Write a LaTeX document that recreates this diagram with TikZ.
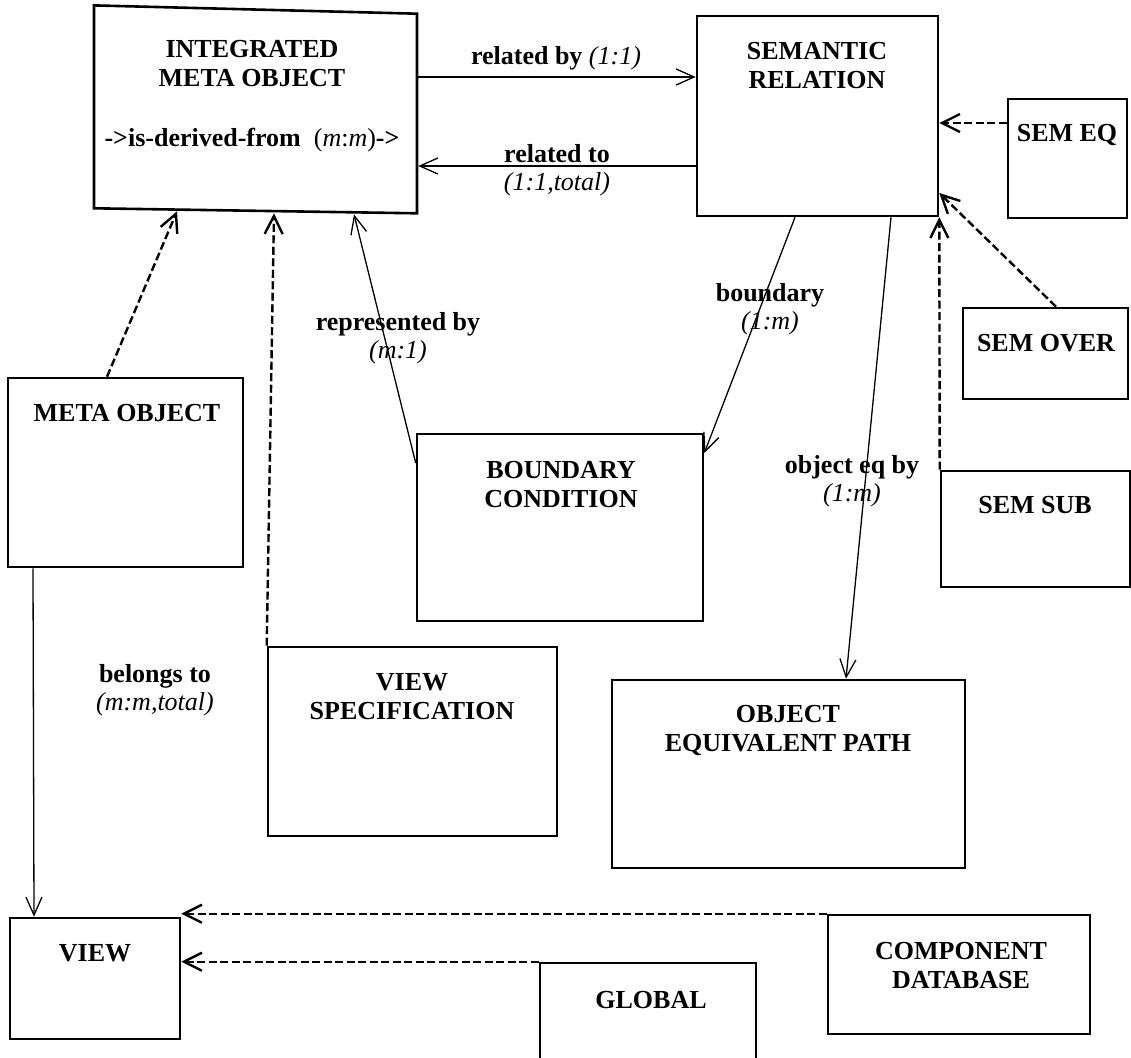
\documentclass[tikz,border=0pt]{standalone}
\usepackage{fontspec}
\setmainfont{Liberation Serif}
\usetikzlibrary{arrows.meta,calc}
\begin{document}
\begin{tikzpicture}[x=1pt,y=-1pt,
  box/.style={draw, line width=2.6pt, rectangle, inner sep=0pt},
  boxline/.style={line width=2.6pt, line join=miter},
  ttl/.style={font=\fontsize{26}{29}\selectfont\bfseries, align=center, inner sep=0pt},
  lbl/.style={font=\fontsize{26}{28}\selectfont\bfseries, align=center, inner sep=0pt},
  conn/.style={line width=1.3pt, -{Straight Barb[length=18pt,width=16pt]}},
  dconn/.style={line width=2.4pt, dash pattern=on 8pt off 3.5pt, -{Straight Barb[length=18pt,width=18pt]}},
]
\path[use as bounding box] (0,0) rectangle (1131,1057);
\clip (0,0) rectangle (1131,1057);

% boxes
\node[inner sep=0pt, outer sep=1.3pt, minimum width=323pt, minimum height=202pt] (imo) at (255.5,109) {};
\draw[boxline] ($(imo.north west)+(1.3,-1.3)$) -- ($(imo.north east)+(-1.3,7)$) -- ($(imo.south east)+(-1.3,2)$) -- ($(imo.south west)+(1.3,-3)$) -- cycle;
\node[box, minimum width=241pt, minimum height=200pt] (sr) at (817.5,116) {};
\node[box, minimum width=119pt, minimum height=119pt] (semeq) at (1067.5,158.5) {};
\node[box, minimum width=165pt, minimum height=91pt] (semover) at (1045.5,353.5) {};
\node[box, minimum width=189pt, minimum height=116pt] (semsub) at (1035.5,529) {};
\node[box, minimum width=235pt, minimum height=189pt] (mo) at (125.5,472.5) {};
\node[box, minimum width=286pt, minimum height=187pt] (bc) at (560,527.5) {};
\node[box, minimum width=289pt, minimum height=189pt] (vs) at (412.5,741.5) {};
\node[box, minimum width=353pt, minimum height=188pt] (oep) at (788.5,774) {};
\node[box, minimum width=170pt, minimum height=121pt] (view) at (95,978.5) {};
\node[box, minimum width=262pt, minimum height=119pt] (cd) at (959,974.5) {};
\node[box, minimum width=216pt, minimum height=117pt] (global) at (648,1021.5) {};

% titles
\node[ttl] (imo-t) at (252,64) {INTEGRATED\\META OBJECT};
\node[ttl] (imo-d) at (252,140) {->is-derived-from\enspace\textmd{(\textit{m}:\textit{m})}->};
\node[ttl] (sr-t) at (817,66) {SEMANTIC\\RELATION};
\node[ttl] (semeq-t) at (1067,135) {SEM EQ};
\node[ttl] (semover-t) at (1046,343) {SEM OVER};
\node[ttl] (semsub-t) at (1035,505) {SEM SUB};
\node[ttl] (mo-t) at (127,413) {META OBJECT};
\node[ttl] (bc-t) at (561,485) {BOUNDARY\\CONDITION};
\node[ttl] (vs-t) at (412,697) {VIEW\\SPECIFICATION};
\node[ttl] (oep-t) at (788,730) {OBJECT\\EQUIVALENT PATH};
\node[ttl] (view-t) at (95,953) {VIEW};
\node[ttl] (cd-t) at (961,966) {COMPONENT\\DATABASE};
\node[ttl] (global-t) at (651,1000) {GLOBAL};

% connector labels
\node[lbl] (l-rb) at (556,58) {related by \textmd{\textit{(1:1)}}};
\node[lbl] (l-rt) at (557,170) {related to\\\textmd{\textit{(1:1,total)}}};
\node[lbl] (l-bd) at (770,309) {boundary\\\textmd{\textit{(1:m)}}};
\node[lbl] (l-rp) at (398,338) {represented by\\\textmd{\textit{(m:1)}}};
\node[lbl] (l-oe) at (852,481) {object eq by\\\textmd{\textit{(1:m)}}};
\node[lbl] (l-bl) at (155,690) {belongs to\\\textmd{\textit{(m:m,total)}}};

% connectors
\draw[conn] (imo.east |- 0,77) -- (sr.west |- 0,77);
\draw[conn] (sr.west |- 0,166) -- (imo.east |- 0,166);
\draw[dconn] (semeq.west |- 0,123) -- (sr.east |- 0,123);
\draw[dconn] (semover.north -| 1056,0) -- (sr.east |- 0,193);
\draw[dconn] (semsub.north west) -- (sr.south east);
\draw[conn] (sr.south -| 795,0) -- (bc.east |- 0,453);
\draw[conn] (sr.south -| 891,0) -- (oep.north -| 846,0);
\draw[conn] (bc.west |- 0,463) -- ($(imo.south -| 354,0)+(0,3)$);
\draw[dconn] (mo.north -| 107,0) -- (imo.south -| 177,0);
\draw[dconn] (vs.north west) -- ($(imo.south -| 274,0)+(0,2)$);
\draw[conn] (mo.south -| 33,0) -- (view.north -| 34,0);
\draw[dconn] (cd.north west) -- (view.east |- cd.north);
\draw[dconn] (global.north west) -- (view.east |- global.north);
\end{tikzpicture}
\end{document}
